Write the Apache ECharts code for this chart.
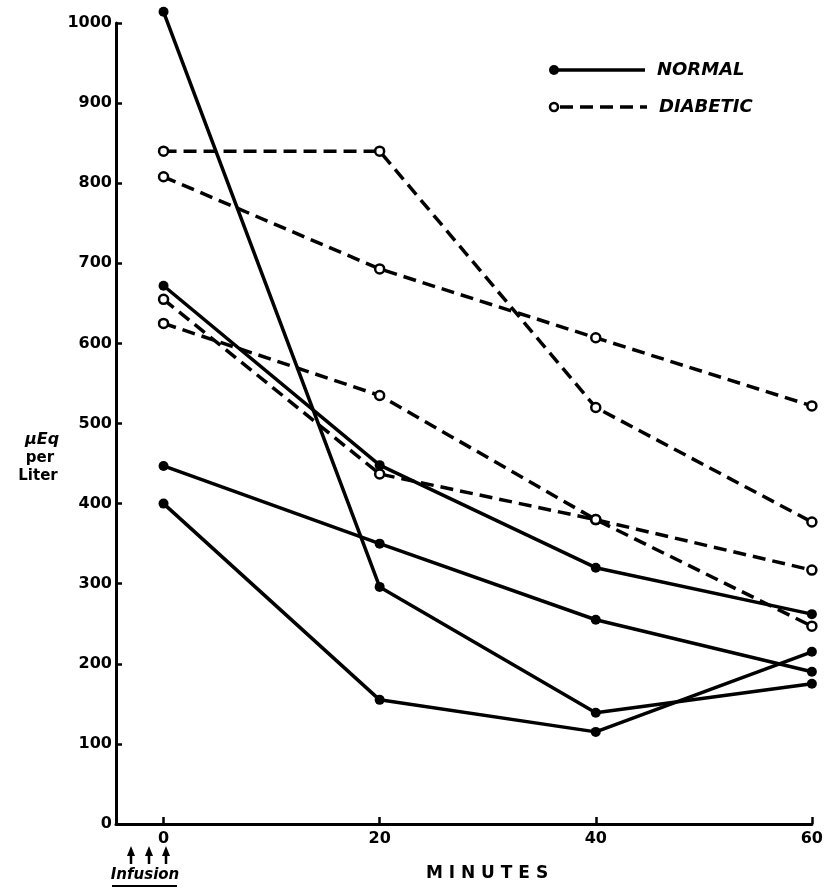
<!DOCTYPE html>
<html>
<head>
<meta charset="utf-8">
<script src="https://cdn.jsdelivr.net/npm/echarts@6/dist/echarts.min.js"></script>
<style>
  html, body { margin: 0; padding: 0; background: #fff; }
  #chart { width: 826px; height: 888px; }
</style>
</head>
<body>
<div id="chart"></div>
<script>
// time points (minutes after infusion)
var minutes = [0, 20, 40, 60];
var xTicks = [0, 20, 40, 60];

// uEq per liter
var normal1 = [1014, 296, 139, 175];
var normal2 = [672, 448, 320, 262];
var normal3 = [447, 350, 255, 190];
var normal4 = [400, 155, 115, 215];

var diabetic1 = [840, 840, 520, 377];
var diabetic2 = [808, 693, 607, 522];
var diabetic3 = [655, 437, 380, 317];
var diabetic4 = [625, 535, 380, 247];

var normalSets = [normal1, normal2, normal3, normal4];
var diabeticSets = [diabetic1, diabetic2, diabetic3, diabetic4];

var FONT = '"DejaVu Sans", sans-serif';

function toPoints(arr) {
    return minutes.map(function (m, i) { return [m, arr[i]]; });
}

var series = [];
normalSets.forEach(function (arr, i) {
    series.push({
        name: 'NORMAL ' + (i + 1),
        type: 'line',
        clip: false,
        symbol: 'circle',
        symbolSize: 10,
        lineStyle: { color: '#000', width: 3.5 },
        itemStyle: { color: '#000' },
        data: toPoints(arr)
    });
});
diabeticSets.forEach(function (arr, i) {
    series.push({
        name: 'DIABETIC ' + (i + 1),
        type: 'line',
        clip: false,
        symbol: 'circle',
        symbolSize: 9,
        lineStyle: { color: '#000', width: 3.5, type: [13, 7] },
        itemStyle: { color: '#fff', borderColor: '#000', borderWidth: 2.5 },
        data: toPoints(arr)
    });
});

function arrow(x) {
    return [
        { type: 'line', shape: { x1: x, y1: 864, x2: x, y2: 853 }, style: { stroke: '#000', lineWidth: 2.5 } },
        { type: 'polygon', shape: { points: [[x - 4, 856], [x + 4, 856], [x, 846]] }, style: { fill: '#000' } }
    ];
}

var graphics = [
    // legend
    { type: 'line', shape: { x1: 553, y1: 70, x2: 645, y2: 70 }, style: { stroke: '#000', lineWidth: 3.5 } },
    { type: 'circle', shape: { cx: 554, cy: 70, r: 5 }, style: { fill: '#000' } },
    { type: 'text', style: { text: 'NORMAL', x: 657, y: 70, font: 'italic bold 18px ' + FONT, fill: '#000', textVerticalAlign: 'middle' } },
    { type: 'line', shape: { x1: 560, y1: 107, x2: 647, y2: 107 }, style: { stroke: '#000', lineWidth: 3.5, lineDash: [13, 7] } },
    { type: 'circle', shape: { cx: 554, cy: 107, r: 4 }, style: { fill: '#fff', stroke: '#000', lineWidth: 2.5 } },
    { type: 'text', style: { text: 'DIABETIC', x: 659, y: 107, font: 'italic bold 18px ' + FONT, fill: '#000', textVerticalAlign: 'middle' } },
    // y axis name
    { type: 'text', style: { text: 'μEq', x: 42, y: 440, font: 'italic bold 16px ' + FONT, fill: '#000', textAlign: 'center', textVerticalAlign: 'middle' } },
    { type: 'text', style: { text: 'per', x: 40, y: 458, font: 'bold 15px ' + FONT, fill: '#000', textAlign: 'center', textVerticalAlign: 'middle' } },
    { type: 'text', style: { text: 'Liter', x: 38, y: 476, font: 'bold 15px ' + FONT, fill: '#000', textAlign: 'center', textVerticalAlign: 'middle' } },
    // x axis name
    { type: 'text', style: { text: 'M I N U T E S', x: 487, y: 874, font: 'bold 17px ' + FONT, fill: '#000', textAlign: 'center', textVerticalAlign: 'middle' } },
    // infusion marker
    { type: 'text', style: { text: 'Infusion', x: 145, y: 875, font: 'italic bold 15px ' + FONT, fill: '#000', textAlign: 'center', textVerticalAlign: 'middle' } },
    { type: 'line', shape: { x1: 112, y1: 886, x2: 177, y2: 886 }, style: { stroke: '#000', lineWidth: 2 } }
].concat(arrow(131), arrow(149), arrow(166));

var chart = echarts.init(document.getElementById('chart'));
chart.setOption({
    backgroundColor: '#fff',
    animation: false,
    grid: { left: 116, right: 14, top: 23, bottom: 64 },
    xAxis: {
        type: 'value',
        min: -4.4,
        max: 60,
        axisLine: { onZero: false, lineStyle: { color: '#000', width: 3 } },
        axisTick: { inside: true, length: 7, customValues: xTicks, lineStyle: { color: '#000', width: 2.5 } },
        axisLabel: { customValues: xTicks, color: '#000', fontFamily: FONT, fontWeight: 'bold', fontSize: 16, margin: 7 },
        splitLine: { show: false }
    },
    yAxis: {
        type: 'value',
        min: 0,
        max: 1000,
        interval: 100,
        axisLine: { show: true, onZero: false, lineStyle: { color: '#000', width: 3 } },
        axisTick: { show: true, inside: true, length: 6, lineStyle: { color: '#000', width: 2.5 } },
        axisLabel: { color: '#000', fontFamily: FONT, fontWeight: 'bold', fontSize: 16, margin: 4, formatter: function (v) { return String(v); } },
        splitLine: { show: false }
    },
    graphic: graphics,
    series: series
});
</script>
</body>
</html>
